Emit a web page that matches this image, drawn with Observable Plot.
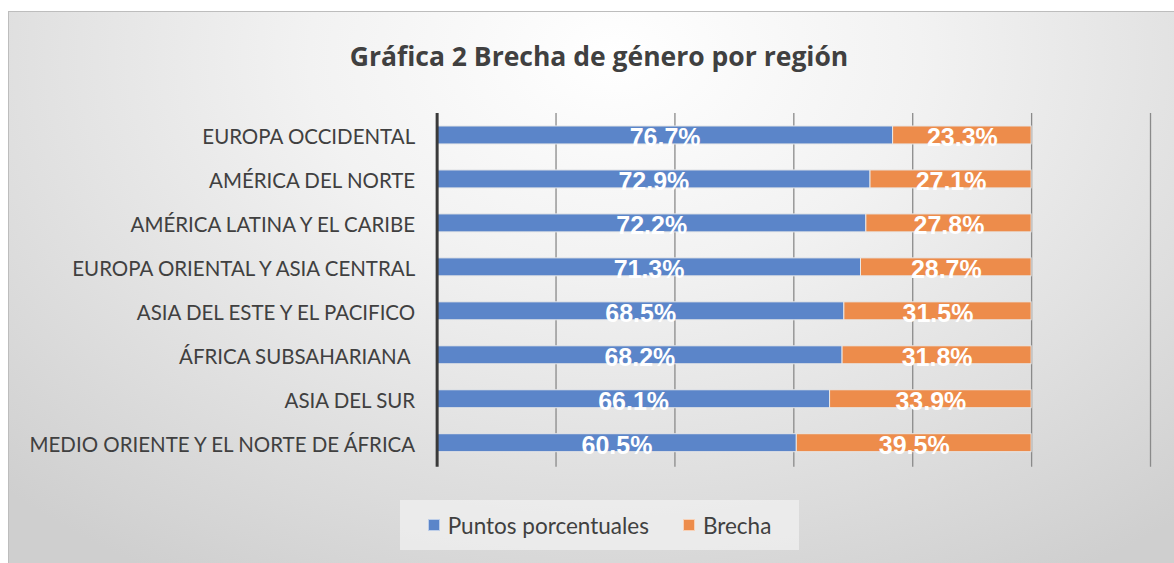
<!DOCTYPE html>
<html>
<head>
<meta charset="utf-8">
<script src="https://cdn.jsdelivr.net/npm/d3@7"></script>
<script src="https://cdn.jsdelivr.net/npm/@observablehq/plot@0.6"></script>
<style>
  html, body { margin: 0; padding: 0; background: #fff; width: 1174px; height: 563px; overflow: hidden; }
  #frame {
    position: absolute; left: 8px; top: 11px; width: 1166px; height: 552px;
    border-top: 1.5px solid #bdbdbd; border-left: 1.5px solid #bdbdbd; box-sizing: border-box;
    background: radial-gradient(ellipse 75% 110% at 52% 8%, #ffffff 0%, #f2f2f2 35%, #e2e2e2 65%, #cfcfcf 100%);
    font-family: Lato, "Open Sans", sans-serif;
  }
  #title {
    position: absolute; left: 0; width: 1180px; top: 26px; text-align: center;
    font-size: 26.5px; font-weight: bold; color: #404040; font-family: "Open Sans", Lato, sans-serif;
  }
  #chart { position: absolute; left: 0; top: 87px; }
  #legend {
    position: absolute; left: 391px; top: 488px; width: 399px; height: 50px;
    background: rgba(240,240,240,0.75);
    display: flex; align-items: center; justify-content: center; gap: 34px;
    font-size: 22.5px; color: #404040;
  }
  .item { display: flex; align-items: center; gap: 8px; }
  .sw { width: 10px; height: 10px; display: inline-block; border: 1px solid rgba(255,255,255,0.6); }
</style>
</head>
<body>
<div id="frame">
  <div id="title">Gráfica 2 Brecha de género por región</div>
  <div id="chart"></div>
  <div id="legend"></div>
</div>
<script>
const regions = [
  "EUROPA OCCIDENTAL",
  "AMÉRICA DEL NORTE",
  "AMÉRICA LATINA Y EL CARIBE",
  "EUROPA ORIENTAL Y ASIA CENTRAL",
  "ASIA DEL ESTE Y EL PACIFICO",
  "ÁFRICA SUBSAHARIANA ",
  "ASIA DEL SUR",
  "MEDIO ORIENTE Y EL NORTE DE ÁFRICA"
];
const puntos = [0.767, 0.729, 0.722, 0.713, 0.685, 0.682, 0.661, 0.605];
const brecha = [0.233, 0.271, 0.278, 0.287, 0.315, 0.318, 0.339, 0.395];
const seriesNames = ["Puntos porcentuales", "Brecha"];
const seriesColors = ["#5b85c9", "#ed8c4b"];
const gridTicks = [0.2, 0.4, 0.6, 0.8, 1.0, 1.2];

const rows = [];
regions.forEach((r, i) => {
  rows.push({region: r, series: seriesNames[0], value: puntos[i]});
  rows.push({region: r, series: seriesNames[1], value: brecha[i]});
});

const plot = Plot.plot({
  width: 1166,
  height: 380,
  marginLeft: 428,
  marginRight: 24,
  marginTop: 14,
  marginBottom: 14,
  style: {background: "transparent", fontFamily: "Lato, 'Open Sans', sans-serif", overflow: "visible"},
  x: {domain: [0, 1.2], axis: null},
  y: {domain: regions, paddingInner: 0.6, paddingOuter: 0.3, label: null, axis: null},
  color: {domain: seriesNames, range: seriesColors},
  marks: [
    Plot.ruleX(gridTicks, {stroke: "#8a8a8a", strokeWidth: 1.3, insetBottom: -2}),
    Plot.barX(rows, Plot.stackX({y: "region", x: "value", z: "series", fill: "series", stroke: "#e8e8e8", strokeWidth: 1, order: seriesNames})),
    Plot.ruleX([0], {stroke: "#3a3a3a", strokeWidth: 3, insetBottom: -2}),
    Plot.text(rows, Plot.stackX({
      y: "region", x: "value", z: "series", order: seriesNames,
      text: d => (d.value * 100).toFixed(1) + "%",
      fill: "white", fontWeight: "bold", fontSize: 25,
      fontFamily: "'Liberation Sans', Arial, sans-serif", dy: 3
    })),
    Plot.axisY({tickSize: 0, tickPadding: 22, fontSize: 20.5, fill: "#404040", label: null, dy: 2})
  ]
});
document.getElementById("chart").appendChild(plot);

const legend = document.getElementById("legend");
seriesNames.forEach((name, i) => {
  const item = document.createElement("div");
  item.className = "item";
  const sw = document.createElement("span");
  sw.className = "sw";
  sw.style.background = seriesColors[i];
  const lab = document.createElement("span");
  lab.textContent = name;
  item.appendChild(sw); item.appendChild(lab);
  legend.appendChild(item);
});
</script>
</body>
</html>
